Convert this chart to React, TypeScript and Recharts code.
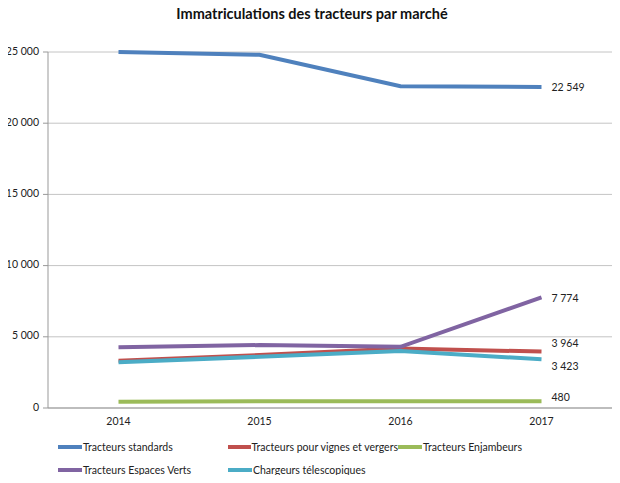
import React from "react";
import { LineChart, Line, CartesianGrid, XAxis, YAxis, LabelList } from "recharts";

const years = ["2014", "2015", "2016", "2017"];
const standards = [25000, 24800, 22600, 22549];
const vignes = [3320, 3720, 4170, 3964];
const enjambeurs = [440, 470, 480, 480];
const espacesVerts = [4260, 4420, 4300, 7774];
const chargeurs = [3210, 3600, 4000, 3423];
const yTicks = [0, 5000, 10000, 15000, 20000, 25000];

const series = [
  { key: "standards", name: "Tracteurs standards", values: standards, color: "#4F81BD", dy: 1 },
  { key: "vignes", name: "Tracteurs pour vignes et vergers", values: vignes, color: "#C0504D", dy: -7 },
  { key: "enjambeurs", name: "Tracteurs Enjambeurs", values: enjambeurs, color: "#9BBB59", dy: -3 },
  { key: "espacesVerts", name: "Tracteurs Espaces Verts", values: espacesVerts, color: "#8064A2", dy: 2 },
  { key: "chargeurs", name: "Chargeurs télescopiques", values: chargeurs, color: "#4BACC6", dy: 8 },
];

const data = years.map((year, i) => {
  const row: Record<string, string | number> = { year };
  series.forEach((s) => (row[s.key] = s.values[i]));
  return row;
});

const fmt = (v: number) => String(Math.round(v)).replace(/\B(?=(\d{3})+(?!\d))/g, "\u00a0");

const FONT = "Lato, 'Open Sans', sans-serif";

function endLabel(dy: number) {
  return (props: any) => {
    const { x, y, value, index } = props;
    if (index !== years.length - 1) return null;
    return (
      <text x={x + 10} y={y + dy} dominantBaseline="middle" fontSize={10.5} fill="#222" fontFamily={FONT}>
        {fmt(value)}
      </text>
    );
  };
}

function YTick(props: any) {
  const { x, y, payload } = props;
  return (
    <text x={x - 2} y={y} textAnchor="end" dominantBaseline="middle" fontSize={10.5} fill="#222" fontFamily={FONT}>
      {fmt(payload.value)}
    </text>
  );
}

const legendRows = [series.slice(0, 3), series.slice(3)];

export default function App() {
  return (
    <div style={{ position: "relative", width: 620, height: 483, margin: -8, fontFamily: FONT, background: "#fff" }}>
      <div
        style={{
          position: "absolute",
          top: 5,
          left: 0,
          width: 624,
          textAlign: "center",
          fontSize: 14.5,
          fontWeight: 700,
          color: "#111",
        }}
      >
        Immatriculations des tracteurs par marché
      </div>
      <LineChart width={620} height={483} data={data} margin={{ top: 52, right: 8, left: 8, bottom: 45 }}>
        <CartesianGrid vertical={false} stroke="#c4c4c4" />
        <XAxis
          dataKey="year"
          height={30}
          padding={{ left: 70.5, right: 70.5 }}
          stroke="#999"
          tickLine={false}
          tick={{ fontSize: 10.5, fill: "#222", fontFamily: FONT }}
          dy={2}
        />
        <YAxis
          width={40}
          domain={[0, 25000]}
          ticks={yTicks}
          interval={0}
          stroke="#999"
          tickSize={5}
          tick={<YTick />}
        />
        {series.map((s) => (
          <Line
            key={s.key}
            dataKey={s.key}
            name={s.name}
            stroke={s.color}
            strokeWidth={4}
            dot={false}
            activeDot={false}
            isAnimationActive={false}
          >
            <LabelList dataKey={s.key} content={endLabel(s.dy)} />
          </Line>
        ))}
      </LineChart>
      {legendRows.map((row, r) => (
        <div key={r} style={{ position: "absolute", top: 441 + r * 23, left: 58, display: "flex" }}>
          {row.map((s) => (
            <div key={s.key} style={{ width: 170, display: "flex", alignItems: "center", fontSize: 10.5, color: "#222", whiteSpace: "nowrap" }}>
              <span style={{ display: "inline-block", width: 24, height: 4, background: s.color, marginRight: 1 }} />
              {s.name}
            </div>
          ))}
        </div>
      ))}
    </div>
  );
}
